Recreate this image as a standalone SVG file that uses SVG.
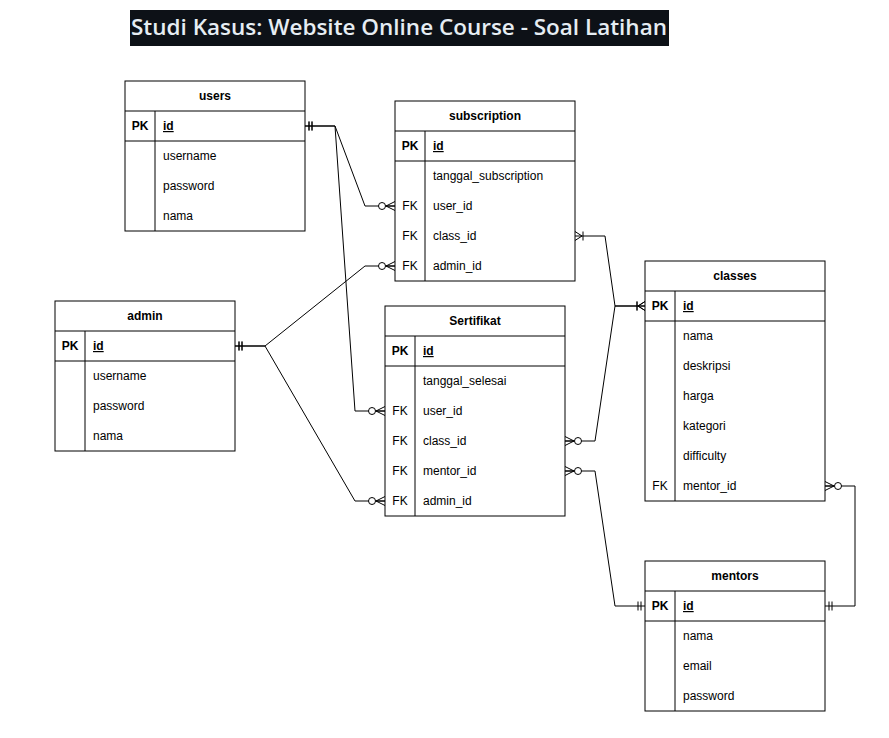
<svg xmlns="http://www.w3.org/2000/svg" width="889" height="738" viewBox="0 0 889 738">
<style>
.box{fill:#fff;stroke:#000;stroke-width:1}
.ln{stroke:#000;stroke-width:1;fill:none}
.hdr{font-family:"Liberation Sans",Arial,sans-serif;font-size:12px;font-weight:bold;text-anchor:middle;fill:#000}
.k{font-family:"Liberation Sans",Arial,sans-serif;font-size:12px;text-anchor:middle;fill:#000}
.pk{font-weight:bold}
.f{font-family:"Liberation Sans",Arial,sans-serif;font-size:12px;fill:#000}
.id{font-weight:bold;text-decoration:underline}
.c{stroke:#000;stroke-width:1;fill:none}
.title{font-family:"Open Sans","Noto Sans",sans-serif;font-size:22px;font-weight:600;fill:#e6edf3}
</style>
<defs>
<marker id="zeroMany" markerUnits="userSpaceOnUse" viewBox="-20 -10 25 20" markerWidth="25" markerHeight="20" refX="0" refY="0" orient="auto-start-reverse" overflow="visible">
<path d="M0,-4.5 L-9,0 L0,4.5 M-9,0 L0,0" fill="none" stroke="#000" stroke-width="1"/>
<circle cx="-13" cy="0" r="3.5" fill="#fff" stroke="#000" stroke-width="1"/>
</marker>
<marker id="mandOne" markerUnits="userSpaceOnUse" viewBox="-20 -10 25 20" markerWidth="25" markerHeight="20" refX="0" refY="0" orient="auto-start-reverse" overflow="visible">
<path d="M-4,-4.5 V4.5 M-7,-4.5 V4.5" fill="none" stroke="#000" stroke-width="1"/>
</marker>
<marker id="oneMany" markerUnits="userSpaceOnUse" viewBox="-20 -10 25 20" markerWidth="25" markerHeight="20" refX="0" refY="0" orient="auto-start-reverse" overflow="visible">
<path d="M0,-4.5 L-7,0 L0,4.5 M-8,-4.5 V4.5" fill="none" stroke="#000" stroke-width="1"/>
</marker>
</defs>
<rect width="889" height="738" fill="#fff"/>
<g id="title">
<rect x="130" y="10" width="539" height="36" fill="#0d1117"/>
<text class="title" x="131" y="35" textLength="536" lengthAdjust="spacingAndGlyphs">Studi Kasus: Website Online Course - Soal Latihan</text>
</g>

<g id="connectors">
<path class="c" d="M305,126 H335 L365,206 H395" marker-start="url(#mandOne)" marker-end="url(#zeroMany)"/>
<path class="c" d="M305,126 H335 L355,411 H385" marker-start="url(#mandOne)" marker-end="url(#zeroMany)"/>
<path class="c" d="M235,346 H265 L365,266 H395" marker-start="url(#mandOne)" marker-end="url(#zeroMany)"/>
<path class="c" d="M235,346 H265 L355,501 H385" marker-start="url(#mandOne)" marker-end="url(#zeroMany)"/>
<path class="c" d="M575,236 H605 L615,306 H645" marker-start="url(#oneMany)" marker-end="url(#oneMany)"/>
<path class="c" d="M565,441 H595 L615,306 H645" marker-start="url(#zeroMany)" marker-end="url(#oneMany)"/>
<path class="c" d="M565,471 H595 L615,606 H645" marker-start="url(#zeroMany)" marker-end="url(#mandOne)"/>
<path class="c" d="M825,486 H855 V606 H825" marker-start="url(#zeroMany)" marker-end="url(#mandOne)"/>
</g>

<g id="users">
<rect class="box" x="125" y="81" width="180" height="150"/>
<path class="ln" d="M125,111 H305 M125,141 H305 M155,111 V231"/>
<text class="hdr" x="215" y="100">users</text>
<text class="k pk" x="140" y="130">PK</text>
<text class="f id" x="163" y="130">id</text>
<text class="f" x="163" y="160">username</text>
<text class="f" x="163" y="190">password</text>
<text class="f" x="163" y="220">nama</text>
</g>

<g id="subscription">
<rect class="box" x="395" y="101" width="180" height="180"/>
<path class="ln" d="M395,131 H575 M395,161 H575 M425,131 V281"/>
<text class="hdr" x="485" y="120">subscription</text>
<text class="k pk" x="410" y="150">PK</text>
<text class="f id" x="433" y="150">id</text>
<text class="f" x="433" y="180">tanggal_subscription</text>
<text class="k" x="410" y="210">FK</text>
<text class="f" x="433" y="210">user_id</text>
<text class="k" x="410" y="240">FK</text>
<text class="f" x="433" y="240">class_id</text>
<text class="k" x="410" y="270">FK</text>
<text class="f" x="433" y="270">admin_id</text>
</g>

<g id="admin">
<rect class="box" x="55" y="301" width="180" height="150"/>
<path class="ln" d="M55,331 H235 M55,361 H235 M85,331 V451"/>
<text class="hdr" x="145" y="320">admin</text>
<text class="k pk" x="70" y="350">PK</text>
<text class="f id" x="93" y="350">id</text>
<text class="f" x="93" y="380">username</text>
<text class="f" x="93" y="410">password</text>
<text class="f" x="93" y="440">nama</text>
</g>

<g id="sertifikat">
<rect class="box" x="385" y="306" width="180" height="210"/>
<path class="ln" d="M385,336 H565 M385,366 H565 M415,336 V516"/>
<text class="hdr" x="475" y="325">Sertifikat</text>
<text class="k pk" x="400" y="355">PK</text>
<text class="f id" x="423" y="355">id</text>
<text class="f" x="423" y="385">tanggal_selesai</text>
<text class="k" x="400" y="415">FK</text>
<text class="f" x="423" y="415">user_id</text>
<text class="k" x="400" y="445">FK</text>
<text class="f" x="423" y="445">class_id</text>
<text class="k" x="400" y="475">FK</text>
<text class="f" x="423" y="475">mentor_id</text>
<text class="k" x="400" y="505">FK</text>
<text class="f" x="423" y="505">admin_id</text>
</g>

<g id="classes">
<rect class="box" x="645" y="261" width="180" height="240"/>
<path class="ln" d="M645,291 H825 M645,321 H825 M675,291 V501"/>
<text class="hdr" x="735" y="280">classes</text>
<text class="k pk" x="660" y="310">PK</text>
<text class="f id" x="683" y="310">id</text>
<text class="f" x="683" y="340">nama</text>
<text class="f" x="683" y="370">deskripsi</text>
<text class="f" x="683" y="400">harga</text>
<text class="f" x="683" y="430">kategori</text>
<text class="f" x="683" y="460">difficulty</text>
<text class="k" x="660" y="490">FK</text>
<text class="f" x="683" y="490">mentor_id</text>
</g>

<g id="mentors">
<rect class="box" x="645" y="561" width="180" height="150"/>
<path class="ln" d="M645,591 H825 M645,621 H825 M675,591 V711"/>
<text class="hdr" x="735" y="580">mentors</text>
<text class="k pk" x="660" y="610">PK</text>
<text class="f id" x="683" y="610">id</text>
<text class="f" x="683" y="640">nama</text>
<text class="f" x="683" y="670">email</text>
<text class="f" x="683" y="700">password</text>
</g>
</svg>
